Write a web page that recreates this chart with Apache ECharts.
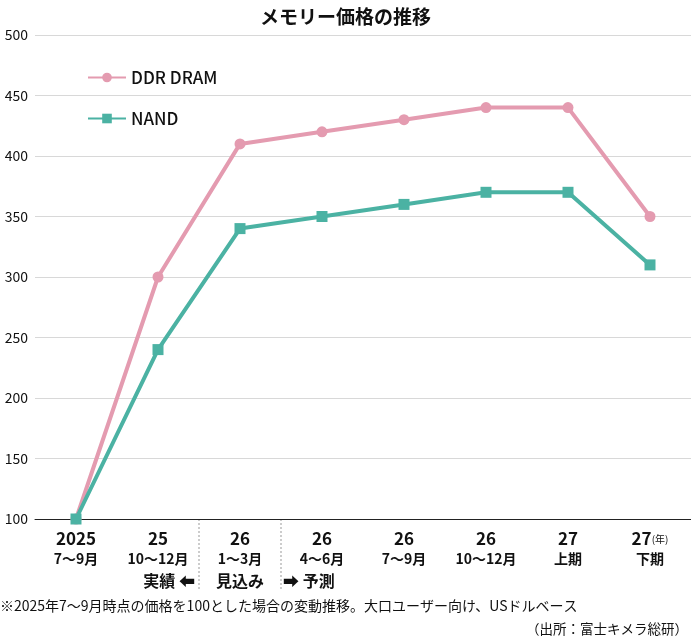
<!DOCTYPE html>
<html><head><meta charset="utf-8">
<script src="https://cdn.jsdelivr.net/npm/echarts@6/dist/echarts.min.js"></script>
<style>body{margin:0;background:#fff}#c{width:691px;height:638px}</style>
</head><body><div id="c"></div>
<script>
var years = ['2025', '25', '26', '26', '26', '26', '27', '27'];
var periods = ['7〜9月', '10〜12月', '1〜3月', '4〜6月', '7〜9月', '10〜12月', '上期', '下期'];
var dram = [100, 300, 410, 420, 430, 440, 440, 350];
var nand = [100, 240, 340, 350, 360, 370, 370, 310];
var cats = years.map(function (y, i) { return y + '|' + periods[i]; });

var font = '"Noto Sans CJK JP", sans-serif';
var myChart = echarts.init(document.getElementById('c'));
var option = {
    title: {
        text: 'メモリー価格の推移', left: 'center', top: 2,
        textStyle: { fontFamily: font, fontSize: 19, fontWeight: 'bold', color: '#111' }
    },
    legend: {
        orient: 'vertical', left: 82, top: 64, itemGap: 24,
        itemWidth: 38, itemHeight: 12,
        textStyle: { fontFamily: font, fontSize: 17, fontWeight: 500, color: '#111' },
        data: ['DDR DRAM', 'NAND']
    },
    grid: { left: 35, right: 0, top: 35, bottom: 119 },
    xAxis: {
        type: 'category', data: cats, boundaryGap: true,
        axisLine: { lineStyle: { color: '#222' } },
        axisTick: { show: false },
        axisLabel: {
            margin: 10, interval: 0, lineHeight: 20,
            formatter: function (v, i) {
                var p = v.split('|');
                return '{y|' + p[0] + '}' + (i === years.length - 1 ? '{s|(年)}' : '') + '\n{p|' + p[1] + '}';
            },
            rich: {
                y: { fontFamily: font, fontSize: 17, fontWeight: 'bold', color: '#111' },
                s: { fontFamily: font, fontSize: 10, color: '#111' },
                p: { fontFamily: font, fontSize: 14, fontWeight: 'bold', color: '#111' }
            }
        }
    },
    yAxis: {
        type: 'value', min: 100, max: 500, interval: 50,
        axisLine: { show: false }, axisTick: { show: false },
        splitLine: { lineStyle: { color: '#d8d8d8' } },
        axisLabel: { fontFamily: font, fontSize: 14, color: '#111', margin: 7 }
    },
    series: [
        {
            name: 'DDR DRAM', type: 'line', data: dram, symbol: 'circle', symbolSize: 11,
            lineStyle: { width: 4, color: '#e49bb0' }, itemStyle: { color: '#e49bb0' }
        },
        {
            name: 'NAND', type: 'line', data: nand, symbol: 'rect', symbolSize: 11,
            lineStyle: { width: 4, color: '#4bb2a3' }, itemStyle: { color: '#4bb2a3' }
        }
    ]
};
myChart.setOption(option);

var x1 = (myChart.convertToPixel({ xAxisIndex: 0 }, 1) + myChart.convertToPixel({ xAxisIndex: 0 }, 2)) / 2;
var x2 = (myChart.convertToPixel({ xAxisIndex: 0 }, 2) + myChart.convertToPixel({ xAxisIndex: 0 }, 3)) / 2;
var y0 = myChart.convertToPixel({ yAxisIndex: 0 }, 100);
var tf = { fontFamily: font, fontSize: 16, fontWeight: 'bold', fill: '#111' };
myChart.setOption({
    graphic: [
        { type: 'line', shape: { x1: x1, y1: y0, x2: x1, y2: y0 + 71 }, style: { stroke: '#999', lineDash: [2, 2] } },
        { type: 'line', shape: { x1: x2, y1: y0, x2: x2, y2: y0 + 71 }, style: { stroke: '#999', lineDash: [2, 2] } },
        { type: 'text', x: x1 - 4, y: y0 + 62, style: Object.assign({ text: '実績 ⬅', align: 'right', verticalAlign: 'middle' }, tf) },
        { type: 'text', x: (x1 + x2) / 2, y: y0 + 62, style: Object.assign({ text: '見込み', align: 'center', verticalAlign: 'middle' }, tf) },
        { type: 'text', x: x2 + 2, y: y0 + 62, style: Object.assign({ text: '➡ 予測', align: 'left', verticalAlign: 'middle' }, tf) },
        { type: 'text', x: 0, y: y0 + 87, style: { text: '※2025年7〜9月時点の価格を100とした場合の変動推移。大口ユーザー向け、USドルベース', fontFamily: font, fontSize: 14, fill: '#111', verticalAlign: 'middle' } },
        { type: 'text', x: 688, y: y0 + 110, style: { text: '（出所：富士キメラ総研）', fontFamily: font, fontSize: 13.5, fill: '#111', align: 'right', verticalAlign: 'middle' } }
    ]
});
</script></body></html>
